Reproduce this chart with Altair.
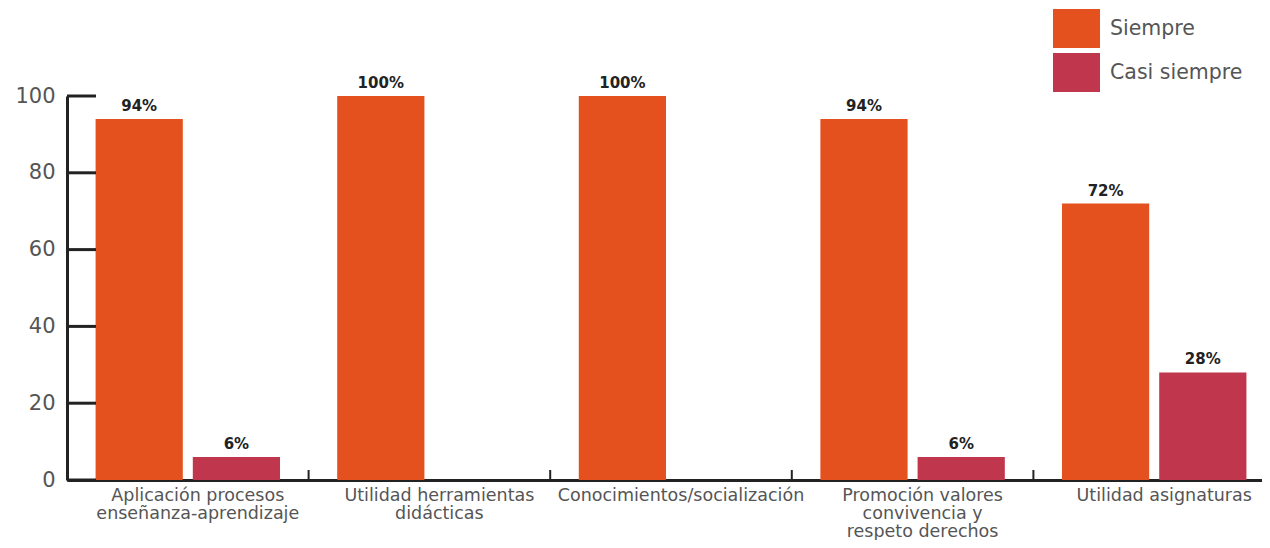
import altair as alt
import pandas as pd

categories = [
    "Aplicación procesos|enseñanza-aprendizaje",
    "Utilidad herramientas|didácticas",
    "Conocimientos/socialización",
    "Promoción valores|convivencia y|respeto derechos",
    "Utilidad asignaturas",
]
siempre = [94, 100, 100, 94, 72]
casi_siempre = [6, 0, 0, 6, 28]
series = ["Siempre", "Casi siempre"]
colors = ["#E4511F", "#C0364D"]
y_ticks = [0, 20, 40, 60, 80, 100]

rows = []
for c, s, k in zip(categories, siempre, casi_siempre):
    rows.append({"cat": c, "serie": series[0], "val": s, "lab": f"{s}%"})
    rows.append({"cat": c, "serie": series[1], "val": k, "lab": f"{k}%"})
df = pd.DataFrame(rows)
df_lab = df[df["val"] > 0]
df_yt = pd.DataFrame({"val": y_ticks})
df_xt = pd.DataFrame({"cat": categories})

W, H = 1195, 384
FONT = "DejaVu Sans"
INK = "#222222"
GREY = "#555555"

x_axis = alt.Axis(
    title=None, labelAngle=0, ticks=False, domainWidth=3, domainColor=INK,
    labelExpr="split(datum.label, '|')", labelFontSize=17.5, labelLineHeight=18,
    labelColor=GREY, labelFont=FONT, labelPadding=6, labelOffset=10,
    labelBaseline="top", labelLimit=300,
)
y_axis = alt.Axis(
    title=None, values=y_ticks, ticks=False, grid=False, domainWidth=3,
    domainColor=INK, labelFontSize=21, labelColor=GREY, labelFont=FONT,
    labelPadding=12,
)
x_scale = alt.Scale(paddingInner=0, paddingOuter=0, range=[0, 1208])
y_scale = alt.Scale(domain=[0, 100], nice=False)

x_enc = alt.X("cat:N", sort=categories, scale=x_scale, axis=x_axis)
xoff = alt.XOffset("serie:N", sort=series,
                   scale=alt.Scale(paddingInner=0.103, paddingOuter=0.294))
y_enc = alt.Y("val:Q", scale=y_scale, axis=y_axis)

bars = alt.Chart(df).mark_bar().encode(
    x=x_enc,
    xOffset=xoff,
    y=y_enc,
    color=alt.Color(
        "serie:N", sort=series,
        scale=alt.Scale(domain=series, range=colors),
        legend=alt.Legend(
            title=None, orient="none", legendX=986, legendY=-91,
            symbolType="M-1,-0.83H1V0.83H-1Z", symbolSize=2209,
            symbolStrokeWidth=0, symbolOpacity=1, rowPadding=0,
            labelFontSize=20.5, labelColor=GREY, labelFont=FONT,
            labelOffset=10,
        ),
    ),
)

texts = alt.Chart(df_lab).mark_text(
    baseline="bottom", dy=-5, fontSize=15, fontWeight="bold", color=INK, font=FONT
).encode(x=x_enc, xOffset=xoff, y=y_enc, text="lab:N")

ytick_layer = alt.Chart(df_yt).mark_rule(color=INK, strokeWidth=3).encode(
    y=y_enc, x=alt.value(0), x2=alt.value(29)
)
xtick_layer = alt.Chart(df_xt).mark_rule(color=INK, strokeWidth=2).encode(
    x=alt.X("cat:N", sort=categories, scale=x_scale, axis=x_axis, bandPosition=0),
    y=alt.value(H - 10), y2=alt.value(H),
)

chart = alt.layer(bars, texts, ytick_layer, xtick_layer).properties(
    width=W, height=H,
    autosize=alt.AutoSizeParams(type="none"),
    padding={"left": 59, "top": 88, "right": 0, "bottom": 60},
).configure_view(stroke=None)

chart.save("out.html", embed_options={"renderer": "svg", "actions": False})
